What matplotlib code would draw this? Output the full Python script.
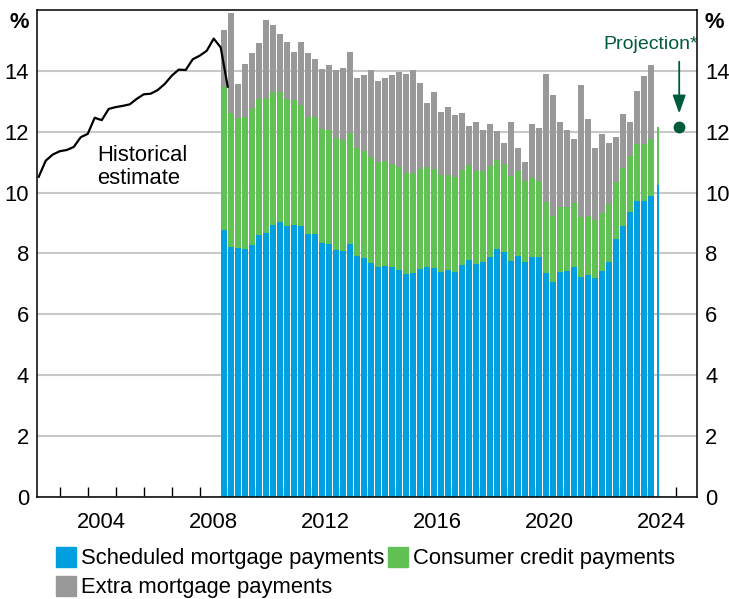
"""
Household debt-servicing: stacked quarterly bars plus historical estimate
"""

import numpy as np
import pandas as pd
import matplotlib
matplotlib.use("Agg")
import matplotlib.pyplot as plt
import matplotlib.transforms as mtransforms
from matplotlib.patches import Patch

# quarterly bars, 2008Q4 .. 2024Q2
first_quarter = "2008Q4"
last_quarter = "2024Q2"

scheduled = [8.77, 8.20, 8.18, 8.15, 8.28, 8.61, 8.67, 8.94, 9.04, 8.90,
             8.94, 8.90, 8.64, 8.64, 8.34, 8.31, 8.11, 8.08, 8.31, 7.92,
             7.85, 7.69, 7.56, 7.59, 7.56, 7.46, 7.33, 7.36, 7.49, 7.56,
             7.52, 7.39, 7.46, 7.39, 7.62, 7.79, 7.65, 7.72, 7.88, 8.15,
             8.05, 7.75, 7.92, 7.72, 7.88, 7.88, 7.36, 7.06, 7.39, 7.42,
             7.56, 7.23, 7.29, 7.19, 7.42, 7.72, 8.48, 8.90, 9.36, 9.72,
             9.72, 9.89, 10.25]

consumer = [4.69, 4.40, 4.28, 4.33, 4.51, 4.46, 4.44, 4.38, 4.28, 4.17,
            4.11, 3.98, 3.84, 3.84, 3.75, 3.76, 3.69, 3.65, 3.65, 3.56,
            3.52, 3.48, 3.45, 3.45, 3.38, 3.38, 3.31, 3.28, 3.29, 3.28,
            3.26, 3.19, 3.12, 3.12, 3.12, 3.12, 3.06, 2.99, 2.99, 2.92,
            2.89, 2.80, 2.79, 2.66, 2.60, 2.50, 2.33, 2.17, 2.14, 2.11,
            2.10, 1.97, 1.94, 1.91, 1.91, 1.91, 1.87, 1.91, 1.84, 1.88,
            1.88, 1.87, 1.90]

extra = [1.88, 3.29, 1.11, 1.74, 1.80, 1.84, 2.56, 2.19, 1.89, 1.88,
         1.57, 2.07, 2.11, 1.91, 1.97, 2.12, 2.23, 2.36, 2.66, 2.28,
         2.49, 2.86, 2.66, 2.72, 2.92, 3.12, 3.26, 3.39, 2.82, 2.10,
         2.52, 2.07, 2.23, 2.04, 1.87, 1.28, 1.61, 1.35, 1.38, 0.95,
         0.69, 1.77, 0.76, 0.63, 1.77, 1.74, 4.21, 3.98, 2.79, 2.53,
         2.10, 4.33, 3.19, 2.38, 2.59, 2.00, 1.48, 1.77, 1.12, 1.74,
         2.23, 2.43, np.nan]

# historical estimate, quarter ends 2002Q1 .. 2008Q4
hist_start = "2002Q1"
hist_values = [10.52, 11.05, 11.25, 11.36, 11.40, 11.50, 11.82, 11.93,
               12.46, 12.38, 12.75, 12.81, 12.85, 12.90, 13.08, 13.23,
               13.25, 13.37, 13.57, 13.84, 14.04, 14.03, 14.38, 14.50,
               14.66, 15.06, 14.77, 13.48]

proj_quarter = "2025Q1"
proj_value = 12.15

labels = ["Scheduled mortgage payments", "Consumer credit payments",
          "Extra mortgage payments"]
colors = ["#009FDF", "#61C155", "#999999"]
proj_color = "#005A3C"


def quarter_mid(periods):
    """Перетворює квартали на десяткові роки (середина кварталу)"""
    return np.array([p.year + (p.quarter - 0.5) / 4 for p in periods])


def main():
    plt.rcParams['font.family'] = ['Liberation Sans', 'DejaVu Sans']
    plt.rcParams['font.size'] = 15.8

    fig = plt.figure(figsize=(7.29, 5.99), dpi=100)
    ax = fig.add_axes([0.0512, 0.1703, 0.9045, 0.813])

    periods = pd.period_range(first_quarter, last_quarter, freq='Q')
    x = quarter_mid(periods)
    sched = np.array(scheduled)
    cons = np.array(consumer)
    ext = np.array(extra)

    widths = np.full(len(x), 0.215)
    widths[-1] = 0.08  # остання неповна смуга

    ax.bar(x, sched, width=widths, color=colors[0], zorder=2)
    ax.bar(x, cons, width=widths, bottom=sched, color=colors[1], zorder=2)
    ax.bar(x, ext, width=widths, bottom=sched + cons, color=colors[2], zorder=2)

    # історична оцінка: кінцеві дати кварталів
    hist_periods = pd.period_range(hist_start, periods=len(hist_values), freq='Q')
    hist_x = np.array([p.year + p.quarter / 4 for p in hist_periods])
    ax.plot(hist_x, hist_values, color='black', lw=1.6, zorder=3)

    # прогноз
    px = quarter_mid(pd.period_range(proj_quarter, periods=1, freq='Q'))[0]
    ax.plot(px, proj_value, 'o', color=proj_color, ms=7.5, zorder=4)
    ax.annotate("", xy=(px, proj_value + 0.45), xytext=(px, proj_value + 2.15),
                arrowprops=dict(arrowstyle='-|>,head_length=0.7,head_width=0.25',
                                color=proj_color, lw=1.3, shrinkA=0, shrinkB=0))
    ax.text(2024.1, 14.88, "Projection*", color=proj_color, fontsize=14,
            ha='center', va='center')

    ax.text(2004.33, 10.85, "Historical\nestimate", ha='left', va='center',
            linespacing=1.15)

    # осі
    ax.set_xlim(2002.2, 2025.75)
    ax.set_ylim(0, 16)
    ax.set_yticks(range(0, 16, 2))
    ax.yaxis.grid(True, color='#c8c8c8', lw=1.5, zorder=0)
    ax.set_axisbelow(True)
    ax.tick_params(axis='y', length=0, pad=6, labelright=True, right=False)

    ax.set_xticks(range(2003, 2026))
    ax.set_xticklabels([])
    ax.set_xticks(np.arange(2004, 2025, 4) + 0.5, minor=True)
    ax.set_xticklabels([str(y) for y in range(2004, 2025, 4)], minor=True)
    ax.tick_params(axis='x', which='major', direction='in', length=7,
                   width=1, color='black')
    ax.tick_params(axis='x', which='minor', length=0, pad=11)

    for s in ax.spines.values():
        s.set_linewidth(1.1)
        s.set_zorder(5)

    trans = mtransforms.blended_transform_factory(ax.transAxes, ax.transData)
    ax.text(-0.012, 15.95, "%", transform=trans, ha='right', va='top',
            fontweight='bold')
    ax.text(1.012, 15.95, "%", transform=trans, ha='left', va='top',
            fontweight='bold')

    # легенда
    handles = [Patch(color=c) for c in colors]
    order = [0, 2, 1]
    fig.legend([handles[i] for i in order], [labels[i] for i in order],
               ncol=2, loc='upper left', bbox_to_anchor=(56 / 729, 1 - 547 / 599),
               frameon=False, borderpad=0, borderaxespad=0,
               handlelength=0.9, handleheight=1.0, handletextpad=0.25,
               columnspacing=0.15, labelspacing=0.3)

    fig.savefig("out.png", dpi=100)


if __name__ == "__main__":
    main()
